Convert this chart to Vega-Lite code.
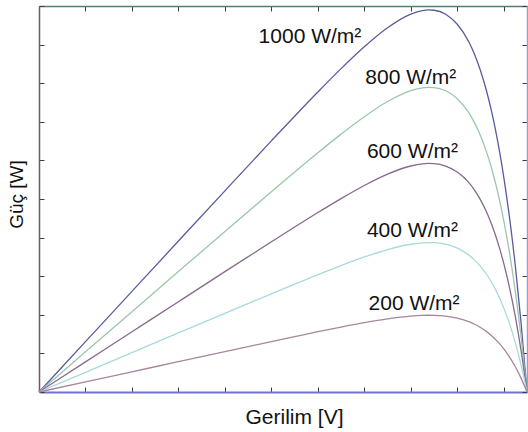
{
  "$schema": "https://vega.github.io/schema/vega-lite/v6.json",
  "width": 488,
  "height": 386,
  "autosize": {"type": "none"},
  "padding": {"left": 39, "top": 6, "right": 1, "bottom": 40},
  "background": "white",
  "config": {
    "view": {"stroke": null},
    "font": "Liberation Sans",
    "axis": {
      "labels": false,
      "grid": false,
      "tickSize": -5,
      "tickWidth": 1,
      "tickColor": "#3c3c3c",
      "domainWidth": 1.5,
      "titleFont": "Liberation Sans",
      "titleFontWeight": "normal",
      "titleColor": "#111111"
    }
  },
  "datasets": {
    "curves": [
      {"G": 1000, "V": 0, "P": 0}, {"G": 1000, "V": 2, "P": 13.04}, {"G": 1000, "V": 4, "P": 26.08}, {"G": 1000, "V": 6, "P": 39.11},
      {"G": 1000, "V": 8, "P": 52.12}, {"G": 1000, "V": 10, "P": 65.06}, {"G": 1000, "V": 11, "P": 71.45}, {"G": 1000, "V": 12, "P": 77.72},
      {"G": 1000, "V": 13, "P": 83.78}, {"G": 1000, "V": 14, "P": 89.43}, {"G": 1000, "V": 15, "P": 94.35}, {"G": 1000, "V": 16, "P": 97.88},
      {"G": 1000, "V": 16.5, "P": 98.81}, {"G": 1000, "V": 16.75, "P": 98.98}, {"G": 1000, "V": 17, "P": 98.9}, {"G": 1000, "V": 17.5, "P": 97.87},
      {"G": 1000, "V": 18, "P": 95.28}, {"G": 1000, "V": 18.5, "P": 90.67}, {"G": 1000, "V": 18.75, "P": 87.35}, {"G": 1000, "V": 19, "P": 83.22},
      {"G": 1000, "V": 19.25, "P": 78.17}, {"G": 1000, "V": 19.5, "P": 72.03}, {"G": 1000, "V": 19.75, "P": 64.59}, {"G": 1000, "V": 20, "P": 55.69},
      {"G": 1000, "V": 20.25, "P": 45.1}, {"G": 1000, "V": 20.5, "P": 32.55}, {"G": 1000, "V": 20.75, "P": 17.59}, {"G": 1000, "V": 21, "P": 0},

      {"G": 800, "V": 0, "P": 0}, {"G": 800, "V": 2, "P": 10.4}, {"G": 800, "V": 4, "P": 20.8}, {"G": 800, "V": 6, "P": 31.19},
      {"G": 800, "V": 8, "P": 41.57}, {"G": 800, "V": 10, "P": 51.89}, {"G": 800, "V": 11, "P": 56.98}, {"G": 800, "V": 12, "P": 61.99},
      {"G": 800, "V": 13, "P": 66.81}, {"G": 800, "V": 14, "P": 71.33}, {"G": 800, "V": 15, "P": 75.25}, {"G": 800, "V": 16, "P": 78.07},
      {"G": 800, "V": 16.5, "P": 78.81}, {"G": 800, "V": 16.75, "P": 78.94}, {"G": 800, "V": 17, "P": 78.88}, {"G": 800, "V": 17.5, "P": 78.05},
      {"G": 800, "V": 18, "P": 75.99}, {"G": 800, "V": 18.5, "P": 72.31}, {"G": 800, "V": 18.75, "P": 69.66}, {"G": 800, "V": 19, "P": 66.37},
      {"G": 800, "V": 19.25, "P": 62.34}, {"G": 800, "V": 19.5, "P": 57.44}, {"G": 800, "V": 19.75, "P": 51.52}, {"G": 800, "V": 20, "P": 44.42},
      {"G": 800, "V": 20.25, "P": 35.97}, {"G": 800, "V": 20.5, "P": 25.96}, {"G": 800, "V": 20.75, "P": 14.03}, {"G": 800, "V": 21, "P": 0},

      {"G": 600, "V": 0, "P": 0}, {"G": 600, "V": 2, "P": 7.8}, {"G": 600, "V": 4, "P": 15.6}, {"G": 600, "V": 6, "P": 23.4},
      {"G": 600, "V": 8, "P": 31.18}, {"G": 600, "V": 10, "P": 38.91}, {"G": 600, "V": 11, "P": 42.74}, {"G": 600, "V": 12, "P": 46.49},
      {"G": 600, "V": 13, "P": 50.11}, {"G": 600, "V": 14, "P": 53.5}, {"G": 600, "V": 15, "P": 56.44}, {"G": 600, "V": 16, "P": 58.55},
      {"G": 600, "V": 16.5, "P": 59.1}, {"G": 600, "V": 16.75, "P": 59.21}, {"G": 600, "V": 17, "P": 59.16}, {"G": 600, "V": 17.5, "P": 58.54},
      {"G": 600, "V": 18, "P": 56.99}, {"G": 600, "V": 18.5, "P": 54.23}, {"G": 600, "V": 18.75, "P": 52.25}, {"G": 600, "V": 19, "P": 49.78},
      {"G": 600, "V": 19.25, "P": 46.76}, {"G": 600, "V": 19.5, "P": 43.08}, {"G": 600, "V": 19.75, "P": 38.64}, {"G": 600, "V": 20, "P": 33.31},
      {"G": 600, "V": 20.25, "P": 26.98}, {"G": 600, "V": 20.5, "P": 19.47}, {"G": 600, "V": 20.75, "P": 10.52}, {"G": 600, "V": 21, "P": 0},

      {"G": 400, "V": 0, "P": 0}, {"G": 400, "V": 2, "P": 5.1}, {"G": 400, "V": 4, "P": 10.2}, {"G": 400, "V": 6, "P": 15.3},
      {"G": 400, "V": 8, "P": 20.38}, {"G": 400, "V": 10, "P": 25.44}, {"G": 400, "V": 11, "P": 27.94}, {"G": 400, "V": 12, "P": 30.4},
      {"G": 400, "V": 13, "P": 32.76}, {"G": 400, "V": 14, "P": 34.98}, {"G": 400, "V": 15, "P": 36.9}, {"G": 400, "V": 16, "P": 38.28},
      {"G": 400, "V": 16.5, "P": 38.65}, {"G": 400, "V": 16.75, "P": 38.71}, {"G": 400, "V": 17, "P": 38.68}, {"G": 400, "V": 17.5, "P": 38.28},
      {"G": 400, "V": 18, "P": 37.27}, {"G": 400, "V": 18.5, "P": 35.46}, {"G": 400, "V": 18.75, "P": 34.16}, {"G": 400, "V": 19, "P": 32.55},
      {"G": 400, "V": 19.25, "P": 30.57}, {"G": 400, "V": 19.5, "P": 28.17}, {"G": 400, "V": 19.75, "P": 25.26}, {"G": 400, "V": 20, "P": 21.78},
      {"G": 400, "V": 20.25, "P": 17.64}, {"G": 400, "V": 20.5, "P": 12.73}, {"G": 400, "V": 20.75, "P": 6.88}, {"G": 400, "V": 21, "P": 0},

      {"G": 200, "V": 0, "P": 0}, {"G": 200, "V": 2, "P": 2.62}, {"G": 200, "V": 4, "P": 5.24}, {"G": 200, "V": 6, "P": 7.86},
      {"G": 200, "V": 8, "P": 10.47}, {"G": 200, "V": 10, "P": 13.07}, {"G": 200, "V": 11, "P": 14.35}, {"G": 200, "V": 12, "P": 15.62},
      {"G": 200, "V": 13, "P": 16.83}, {"G": 200, "V": 14, "P": 17.97}, {"G": 200, "V": 15, "P": 18.96}, {"G": 200, "V": 16, "P": 19.67},
      {"G": 200, "V": 16.5, "P": 19.85}, {"G": 200, "V": 16.75, "P": 19.89}, {"G": 200, "V": 17, "P": 19.87}, {"G": 200, "V": 17.5, "P": 19.66},
      {"G": 200, "V": 18, "P": 19.14}, {"G": 200, "V": 18.5, "P": 18.22}, {"G": 200, "V": 18.75, "P": 17.55}, {"G": 200, "V": 19, "P": 16.72},
      {"G": 200, "V": 19.25, "P": 15.71}, {"G": 200, "V": 19.5, "P": 14.47}, {"G": 200, "V": 19.75, "P": 12.98}, {"G": 200, "V": 20, "P": 11.19},
      {"G": 200, "V": 20.25, "P": 9.06}, {"G": 200, "V": 20.5, "P": 6.54}, {"G": 200, "V": 20.75, "P": 3.53}, {"G": 200, "V": 21, "P": 0}
    ],
    "labels": [
      {"text": "1000 W/m²", "V": 11.66, "P": 90.3},
      {"text": "800 W/m²", "V": 16.0, "P": 79.9},
      {"text": "600 W/m²", "V": 16.07, "P": 60.5},
      {"text": "400 W/m²", "V": 16.07, "P": 40.1},
      {"text": "200 W/m²", "V": 16.14, "P": 21.2}
    ]
  },
  "layer": [
    {
      "data": {"name": "curves"},
      "mark": {"type": "line", "strokeWidth": 1.3, "interpolate": "monotone"},
      "encoding": {
        "x": {
          "field": "V", "type": "quantitative",
          "scale": {"domain": [0, 21], "nice": false, "zero": false},
          "axis": {
            "orient": "bottom", "values": [0, 2, 4, 6, 8, 10, 12, 14, 16, 18, 20],
            "domainColor": "#7070d2", "domainWidth": 2,
            "title": "Gerilim [V]", "titleFontSize": 21,
            "titleX": 255, "titleY": 31, "titleBaseline": "alphabetic", "titleAlign": "center"
          }
        },
        "y": {
          "field": "P", "type": "quantitative",
          "scale": {"domain": [0, 100], "nice": false},
          "axis": {
            "orient": "left", "values": [0, 10, 20, 30, 40, 50, 60, 70, 80, 90, 100],
            "domainColor": "#6c5c62",
            "title": "Güç [W]", "titleFontSize": 19,
            "titleX": -17, "titleY": 188, "titleBaseline": "alphabetic", "titleAlign": "center", "titleAngle": -90
          }
        },
        "color": {
          "field": "G", "type": "nominal",
          "scale": {
            "domain": [1000, 800, 600, 400, 200],
            "range": ["#5a5a9e", "#9cc6ac", "#86698c", "#a8dada", "#a6869e"]
          },
          "legend": null
        },
        "order": {"field": "V", "type": "quantitative"}
      }
    },
    {
      "data": {"name": "curves"},
      "mark": {"type": "line", "strokeOpacity": 0},
      "encoding": {
        "x": {
          "field": "V", "type": "quantitative",
          "axis": {
            "orient": "top", "values": [0, 2, 4, 6, 8, 10, 12, 14, 16, 18, 20],
            "domainColor": "#4f7c7a", "title": null
          }
        },
        "y": {
          "field": "P", "type": "quantitative",
          "axis": {
            "orient": "right", "values": [0, 10, 20, 30, 40, 50, 60, 70, 80, 90, 100],
            "domainColor": "#9a9ae2", "title": null
          }
        },
        "detail": {"field": "G", "type": "nominal"}
      }
    },
    {
      "data": {"name": "labels"},
      "mark": {"type": "text", "font": "Liberation Sans", "fontSize": 21, "color": "#111111", "align": "center", "baseline": "alphabetic"},
      "encoding": {
        "x": {"field": "V", "type": "quantitative", "axis": null},
        "y": {"field": "P", "type": "quantitative", "axis": null},
        "text": {"field": "text", "type": "nominal"}
      }
    }
  ],
  "resolve": {"axis": {"x": "independent", "y": "independent"}}
}
